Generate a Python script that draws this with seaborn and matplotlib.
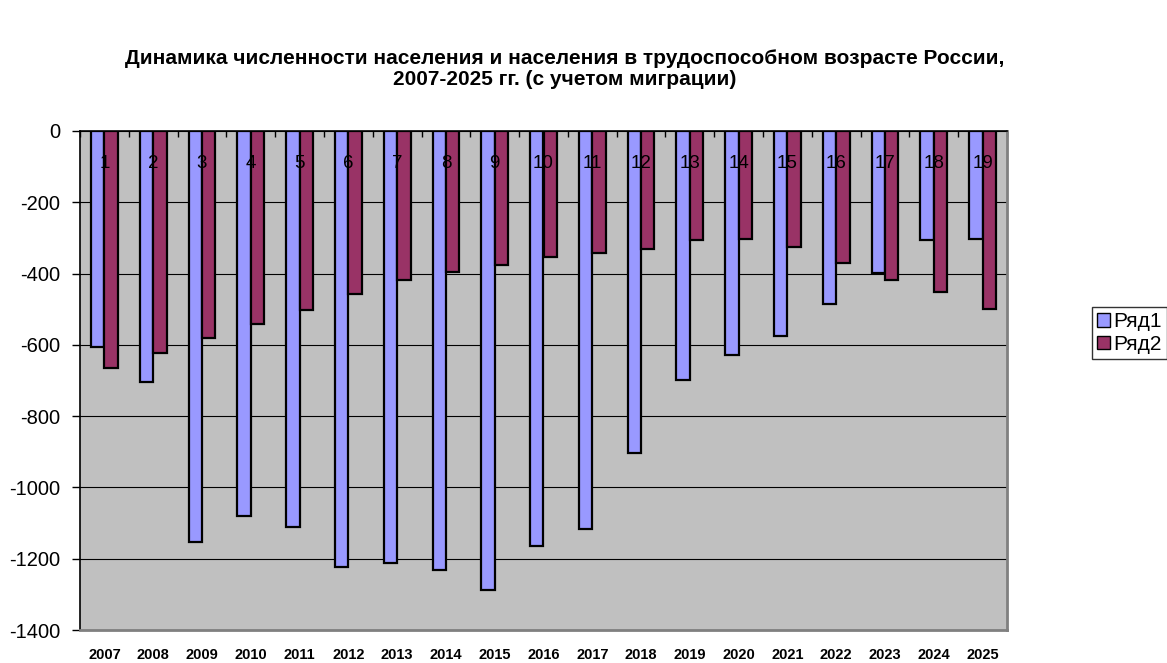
import numpy as np
import pandas as pd
import seaborn as sns
import matplotlib.pyplot as plt
from matplotlib.patches import Patch

years = [str(y) for y in range(2007, 2026)]
series_names = ['Ряд1', 'Ряд2']
row1 = [-607, -705, -1152, -1081, -1112, -1223, -1212, -1231, -1288, -1164,
        -1118, -903, -698, -629, -575, -484, -398, -306, -304]
row2 = [-665, -623, -581, -541, -502, -458, -419, -396, -377, -354,
        -343, -330, -306, -302, -325, -370, -417, -453, -500]
point_labels = [str(i) for i in range(1, 20)]
colors = ['#9999FF', '#993366']

df = pd.DataFrame({
    'year': years * 2,
    'value': row1 + row2,
    'series': [series_names[0]] * len(years) + [series_names[1]] * len(years),
})

sns.set_style('white')
plt.rcParams['font.family'] = ['Liberation Sans', 'DejaVu Sans']
plt.rcParams['axes.unicode_minus'] = False
plt.rcParams['text.color'] = 'black'
plt.rcParams['xtick.color'] = 'black'
plt.rcParams['ytick.color'] = 'black'

fig = plt.figure(figsize=(11.67, 6.63), dpi=100)
ax = fig.add_axes([80 / 1167, 33 / 663, 927 / 1167, 499 / 663])
ax.set_facecolor('#C0C0C0')

sns.barplot(data=df, x='year', y='value', hue='series', palette=colors,
            width=0.55, edgecolor='black', linewidth=1.6, saturation=1,
            legend=False, ax=ax)

ax.set_xlim(-0.5, len(years) - 0.5)
ax.set_ylim(-1400, 0)
ax.set_yticks(np.arange(-1400, 1, 200))
ax.yaxis.grid(True, color='black', linewidth=0.8)
ax.set_axisbelow(True)
ax.set_xlabel('')
ax.set_ylabel('')

# category labels stay at the bottom, tick marks on the zero line at the top
ax.tick_params(axis='x', which='major', bottom=False, top=False, length=0, pad=13,
               labelsize=10.5, labelcolor='black')
for t in ax.get_xticklabels():
    t.set_fontweight('bold')
ax.set_xticks(np.arange(-0.5, len(years), 1), minor=True)
ax.tick_params(axis='x', which='minor', bottom=False, top=True, direction='in',
               length=4, width=1, color='black')
ax.tick_params(axis='y', left=True, direction='out', length=6, width=1,
               color='black', labelcolor='black', labelsize=14.5, pad=8)

ax.spines['top'].set_color('black')
ax.spines['top'].set_linewidth(1.2)
ax.spines['left'].set_color('black')
ax.spines['left'].set_linewidth(1.2)
ax.spines['bottom'].set_color('#808080')
ax.spines['bottom'].set_linewidth(2)
ax.spines['right'].set_color('#808080')
ax.spines['right'].set_linewidth(2)

for i, lab in enumerate(point_labels):
    ax.text(i, -105, lab, ha='center', va='baseline', fontsize=13.5, color='black')

fig.text(565 / 1167, 1 - 69 / 663,
         'Динамика численности населения и населения в трудоспособном возрасте России,\n'
         '2007-2025 гг. (с учетом миграции)',
         ha='center', va='center', fontsize=15, fontweight='bold', linespacing=1.15,
         color='black')

handles = [Patch(facecolor=c, edgecolor='black', linewidth=1) for c in colors]
leg = fig.legend(handles, series_names, loc='center left',
                 bbox_to_anchor=(1092 / 1167, 1 - 333 / 663), frameon=True,
                 fancybox=False, fontsize=15, handlelength=0.6, handleheight=0.6,
                 handletextpad=0.15, borderpad=0.25, labelspacing=0.15,
                 borderaxespad=0)
leg.get_frame().set_edgecolor('black')
leg.get_frame().set_linewidth(1)
for t in leg.get_texts():
    t.set_color('black')

fig.savefig('out.png', dpi=100)
